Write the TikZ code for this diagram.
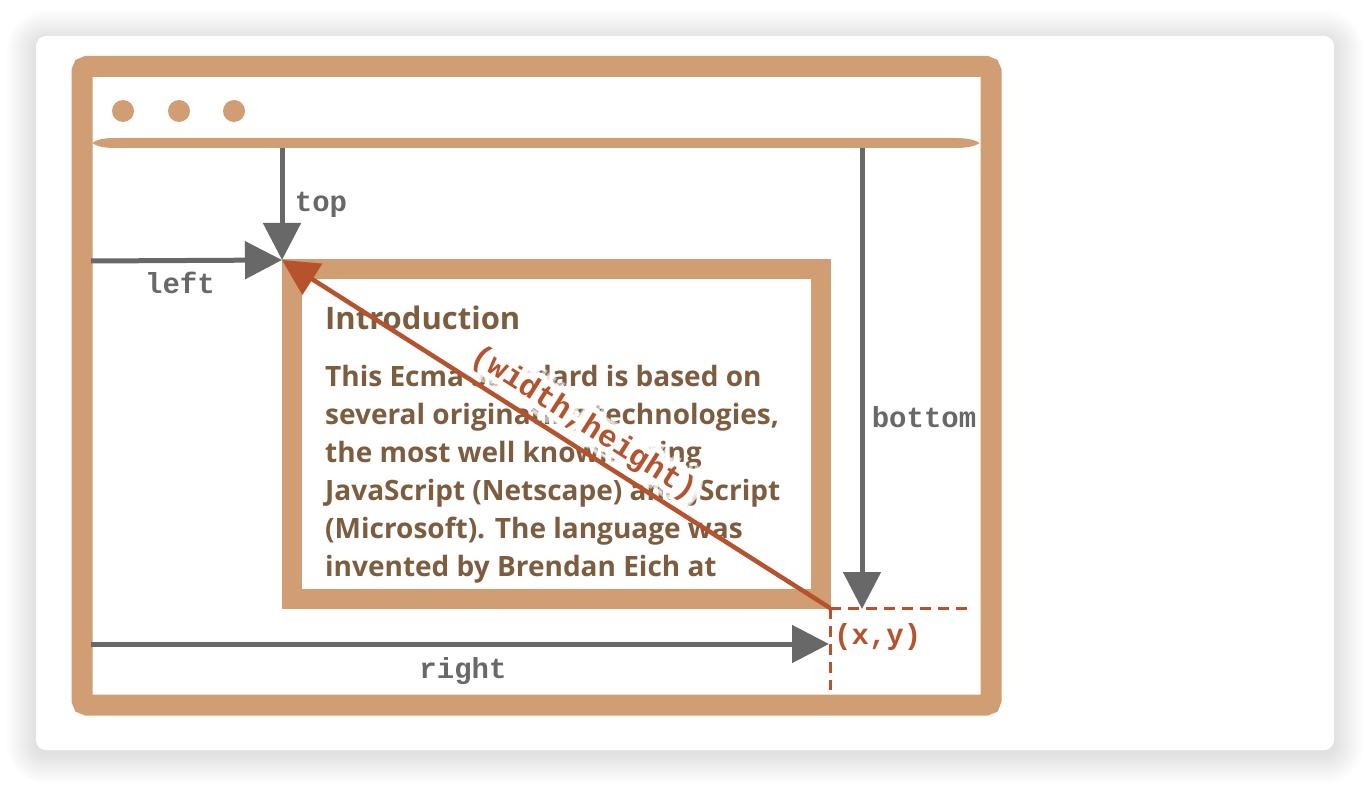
\documentclass[tikz,border=0pt]{standalone}
\usepackage{fontspec}
\setmainfont{Open Sans}
\newfontfamily\lblfont{Liberation Mono}
\usetikzlibrary{arrows.meta,calc}
\definecolor{frame}{RGB}{209,157,114}
\definecolor{gr}{RGB}{104,104,104}
\definecolor{rust}{RGB}{182,82,44}
\definecolor{txt}{RGB}{126,92,62}
\tikzset{
  garrow/.style={gr, line width=5pt, -{Triangle[length=37pt,width=37pt]}},
  rarrow/.style={rust, line width=4.5pt, -{Triangle[length=36pt,width=36pt]}},
  lbl/.style={gr, font=\lblfont\bfseries\fontsize{29}{32}\selectfont, inner sep=0pt},
  rlbl/.style={rust, font=\lblfont\bfseries\fontsize{29}{32}\selectfont, inner sep=0pt},
  whlbl/.style={rust, font=\lblfont\bfseries\fontsize{31}{34}\selectfont, inner sep=0pt, rotate=-32.4},
  bodyline/.style={txt, anchor=base west, inner sep=0pt, font=\bfseries\fontsize{28}{38}\selectfont},
  dashline/.style={rust, line width=3pt, dash pattern=on 11pt off 7pt},
}
\begin{document}
\begin{tikzpicture}[x=1pt,y=-1pt]
\useasboundingbox (0,0) rectangle (1370,786);
\fill[white] (0,0) rectangle (1370,786);
% shadow
\foreach \i in {1,...,30}{
  \pgfmathsetmacro\rr{10+\i}
  \fill[black,opacity=0.0055,rounded corners=\rr pt] (36-\i,40-\i) rectangle (1334+\i,754+\i);
}
% card
\fill[white,rounded corners=10pt] (36,36) rectangle (1334,750);
% window frame
\draw[frame,line width=21pt,rounded corners=5pt] (82,66.5) rectangle (991,705);
% title bar
\fill[frame] (92,143) .. controls (100,138) and (108,138) .. (120,138) -- (955,138)
  .. controls (968,138) and (975,140) .. (980,143) .. controls (975,146) and (968,148) .. (955,148)
  -- (120,148) .. controls (108,148) and (100,148) .. (92,143) -- cycle;
\fill[frame] (123,111) circle (11pt);
\fill[frame] (179,111) circle (11pt);
\fill[frame] (234,111) circle (11pt);
% element box
\draw[frame,line width=20pt] (292,269.5) rectangle (821,599);
% text
\node[txt, anchor=base west, inner sep=0pt, font=\bfseries\fontsize{31}{34}\selectfont] (title) at (325,329) {Introduction};
\node[bodyline] (b1) at (325,386) {This Ecma Standard is based on};
\node[bodyline] (b2) at (325,424) {several originating technologies,};
\node[bodyline] (b3) at (325,462) {the most well known being};
\node[bodyline] (b4) at (325,500) {JavaScript (Netscape) and JScript};
\node[bodyline] (b5) at (325,538) {(Microsoft). The language was};
\node[bodyline] (b6) at (325,576) {invented by Brendan Eich at};
% coordinates
\coordinate (tl) at (282,260);
\coordinate (br) at (830,608);
\coordinate (topS) at (282,148);
\coordinate (leftS) at (91,261);
\coordinate (botS) at (862,148);
\coordinate (botE) at (862,609);
\coordinate (rightS) at (91,644);
\coordinate (rightE) at (829,644);
\coordinate (dashH) at (968,608);
\coordinate (dashV) at (830,690);
\coordinate (whc) at (584,424);
% label halo
\foreach \a in {0,30,...,330}{
  \node[whlbl, white, opacity=0.55] at ($(whc)+(\a:11pt)$) {(width,height)};
  \node[whlbl, white] at ($(whc)+(\a:6pt)$) {(width,height)};
  \node[whlbl, white] at ($(whc)+(\a:3pt)$) {(width,height)};
}
% arrows
\draw[garrow] (topS) -- (tl);
\draw[garrow] (leftS) -- (tl);
\draw[garrow] (botS) -- (botE);
\draw[garrow] (rightS) -- (rightE);
\draw[dashline] (br) -- (dashH);
\draw[dashline] (br) -- (dashV);
\draw[rarrow] (br) -- (tl);
% labels
\node[lbl] (ltop) at (321,205) {top};
\node[lbl] (lleft) at (180,283) {left};
\node[lbl] (lbottom) at (924,417) {bottom};
\node[lbl] (lright) at (463,671) {right};
\node[rlbl, anchor=west] (lxy) at (834,637) {(x,y)};
\node[whlbl] (lwh) at (whc) {(width,height)};
\end{tikzpicture}
\end{document}
